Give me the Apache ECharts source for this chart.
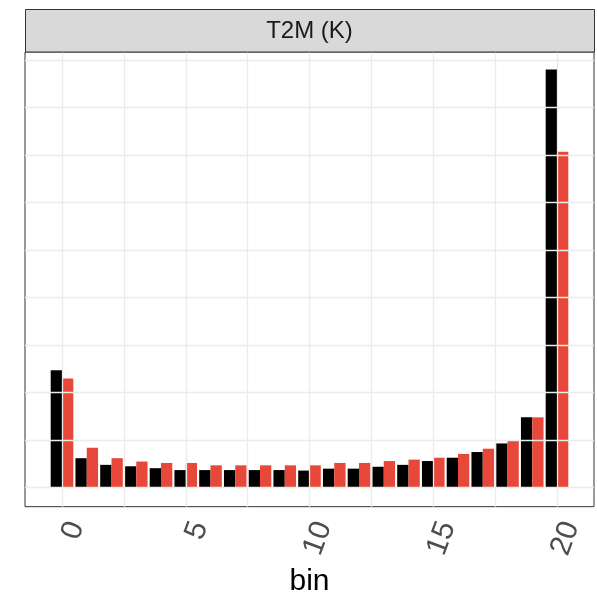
<!DOCTYPE html>
<html>
<head>
<meta charset="utf-8">
<script src="https://cdn.jsdelivr.net/npm/echarts@6/dist/echarts.min.js"></script>
<style>
html,body{margin:0;padding:0;background:#fff;}
#chart{width:597px;height:602px;}
</style>
</head>
<body>
<div id="chart"></div>
<script>
// ---- data ----
const bins = [0,1,2,3,4,5,6,7,8,9,10,11,12,13,14,15,16,17,18,19,20];
const blackValues = [2.47,0.62,0.48,0.45,0.41,0.37,0.37,0.37,0.37,0.37,0.36,0.40,0.40,0.44,0.48,0.56,0.63,0.75,0.93,1.48,8.80];
const redValues   = [2.30,0.84,0.62,0.55,0.52,0.52,0.47,0.47,0.47,0.47,0.47,0.52,0.52,0.56,0.59,0.63,0.71,0.82,1.00,1.48,7.07];
const xTickLabels = [0,5,10,15,20];
const xGridLines = [0,2.5,5,7.5,10,12.5,15,17.5,20];
const yGridLines = [0,1,2,3,4,5,6,7,8,9];
const stripTitle = 'T2M (K)';
const xTitle = 'bin';

const FONT = "'Liberation Sans', Arial, Helvetica, sans-serif";
const chart = echarts.init(document.getElementById('chart'), null, {renderer: 'canvas'});

const gridLeft = 25, gridTop = 52, gridW = 569, gridH = 474;

const option = {
  animation: false,
  backgroundColor: '#ffffff',
  grid: {
    left: gridLeft, top: gridTop, width: gridW, height: gridH,
    show: true, borderColor: '#333333', borderWidth: 1, backgroundColor: '#ffffff'
  },
  xAxis: {
    type: 'value',
    min: -1.495, max: 21.495,
    axisLine: {show: false},
    splitLine: {show: false},
    axisTick: {show: true, customValues: xTickLabels, length: 6, lineStyle: {color: '#333333', width: 1}},
    axisLabel: {
      show: true, customValues: xTickLabels, rotate: 70, margin: 11,
      align: 'right', verticalAlign: 'top',
      fontSize: 30, color: '#4D4D4D', fontFamily: FONT
    },
    name: xTitle, nameLocation: 'middle', nameGap: 48,
    nameTextStyle: {fontSize: 30, color: '#000000', fontFamily: FONT}
  },
  yAxis: {
    type: 'value',
    min: -0.40, max: 9.17,
    axisLine: {show: false}, axisTick: {show: false}, axisLabel: {show: false},
    splitLine: {show: false}
  },
  graphic: [
    {
      type: 'rect', z: 100,
      shape: {x: gridLeft + 0.5, y: 9.5, width: gridW, height: gridTop - 9.5},
      style: {fill: '#D9D9D9', stroke: '#333333', lineWidth: 1}
    },
    {
      type: 'text', z: 101,
      x: gridLeft + gridW / 2, y: (9.5 + gridTop) / 2 + 1,
      style: {text: stripTitle, fill: '#1A1A1A', font: '24px ' + FONT, align: 'center', verticalAlign: 'middle'}
    }
  ],
  series: [
    {
      type: 'line', name: 'grid', data: [], z: 1, silent: true,
      markLine: {
        silent: true, symbol: ['none', 'none'], animation: false,
        label: {show: false},
        lineStyle: {color: '#EBEBEB', width: 1.3, type: 'solid'},
        data: xGridLines.map(v => ({xAxis: v})).concat(yGridLines.map(v => ({yAxis: v})))
      }
    },
    {
      type: 'bar', name: 'group 1', z: 3,
      data: bins.map((b, i) => [b, blackValues[i]]),
      barWidth: 11.3, barGap: '0%',
      itemStyle: {color: '#000000'}
    },
    {
      type: 'bar', name: 'group 2', z: 3,
      data: bins.map((b, i) => [b, redValues[i]]),
      barWidth: 11.3, barGap: '0%',
      itemStyle: {color: '#E8483A'}
    }
  ]
};
chart.setOption(option);
</script>
</body>
</html>
